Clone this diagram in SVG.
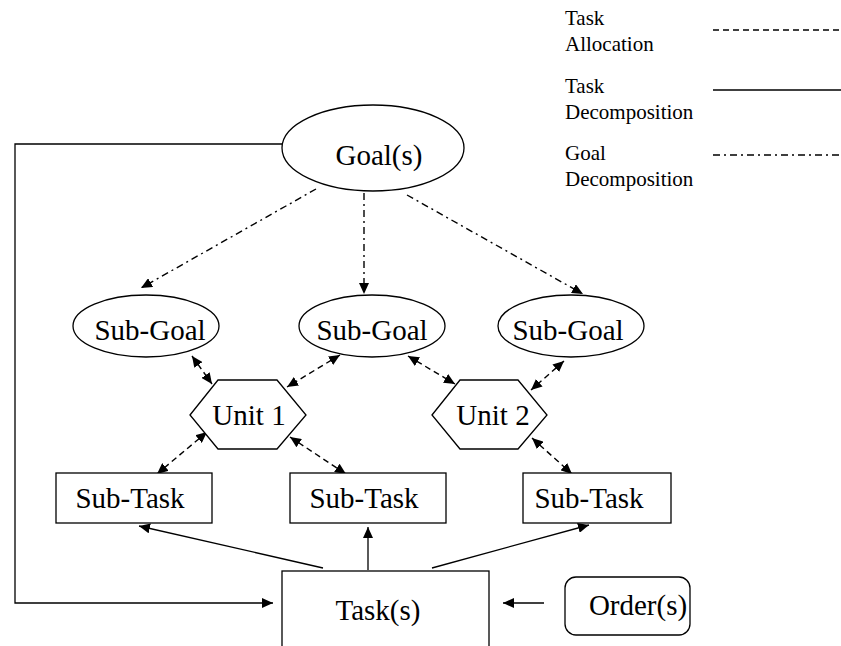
<svg xmlns="http://www.w3.org/2000/svg" width="841" height="646" viewBox="0 0 841 646">
<style>
  .shape { fill: #fff; stroke: #000; stroke-width: 1.3; }
  .lbl { font-family: "Liberation Serif", "Times New Roman", serif; font-size: 29px; fill: #000; text-anchor: middle; }
  .leg { font-family: "Liberation Serif", "Times New Roman", serif; font-size: 21px; fill: #000; }
  .solid { fill: none; stroke: #000; stroke-width: 1.3; }
  .dash { fill: none; stroke: #000; stroke-width: 1.4; stroke-dasharray: 6 4; }
  .dashdot { fill: none; stroke: #000; stroke-width: 1.4; stroke-dasharray: 7 4 2 4; }
</style>
<defs>
  <marker id="ah" markerUnits="userSpaceOnUse" markerWidth="12" markerHeight="10" viewBox="0 0 12 10" refX="11" refY="5" orient="auto-start-reverse">
    <path d="M0,0 L11,5 L0,10 Z" fill="#000"/>
  </marker>
</defs>

<g id="legend">
  <text class="leg" x="565" y="25">Task</text>
  <text class="leg" x="565" y="51">Allocation</text>
  <line class="dash" x1="713" y1="30" x2="841" y2="30"/>
  <text class="leg" x="565" y="93">Task</text>
  <text class="leg" x="565" y="119">Decomposition</text>
  <line class="solid" x1="713" y1="90" x2="841" y2="90"/>
  <text class="leg" x="565" y="160">Goal</text>
  <text class="leg" x="565" y="186">Decomposition</text>
  <line class="dashdot" x1="713" y1="155" x2="841" y2="155"/>
</g>

<g id="connectors">
  <!-- feedback loop -->
  <polyline class="solid" points="282,144 15,144 15,603 273,603" marker-end="url(#ah)"/>
  <!-- goal decomposition -->
  <line class="dashdot" x1="316" y1="189" x2="141" y2="288" marker-end="url(#ah)"/>
  <line class="dashdot" x1="364" y1="193" x2="364" y2="294" stroke-width="2.2" marker-end="url(#ah)"/>
  <line class="dashdot" x1="407" y1="195" x2="583" y2="294" marker-end="url(#ah)"/>
  <!-- task allocation (bidirectional) -->
  <line class="dash" x1="192" y1="356" x2="212" y2="384" marker-start="url(#ah)" marker-end="url(#ah)"/>
  <line class="dash" x1="340" y1="355" x2="287" y2="387" marker-start="url(#ah)" marker-end="url(#ah)"/>
  <line class="dash" x1="207" y1="432" x2="157" y2="474" marker-start="url(#ah)" marker-end="url(#ah)"/>
  <line class="dash" x1="290" y1="437" x2="346" y2="474" marker-start="url(#ah)" marker-end="url(#ah)"/>
  <line class="dash" x1="408" y1="356" x2="455" y2="384" marker-start="url(#ah)" marker-end="url(#ah)"/>
  <line class="dash" x1="564" y1="361" x2="531" y2="390" marker-start="url(#ah)" marker-end="url(#ah)"/>
  <line class="dash" x1="532" y1="438" x2="572" y2="474" marker-start="url(#ah)" marker-end="url(#ah)"/>
  <!-- task decomposition -->
  <line class="solid" x1="323" y1="568" x2="139" y2="526" marker-end="url(#ah)"/>
  <line class="solid" x1="368" y1="570" x2="368" y2="527" marker-end="url(#ah)"/>
  <line class="solid" x1="432" y1="568" x2="589" y2="525" marker-end="url(#ah)"/>
  <!-- order to task -->
  <line class="solid" x1="544" y1="603" x2="503" y2="603" marker-end="url(#ah)"/>
</g>

<g id="goal">
  <ellipse class="shape" cx="373" cy="148" rx="91" ry="43"/>
  <text class="lbl" x="379" y="165">Goal(s)</text>
</g>

<g id="subgoal1">
  <ellipse class="shape" cx="146" cy="326" rx="73" ry="31"/>
  <text class="lbl" x="150" y="340">Sub-Goal</text>
</g>
<g id="subgoal2">
  <ellipse class="shape" cx="372" cy="326" rx="73" ry="31"/>
  <text class="lbl" x="372" y="340">Sub-Goal</text>
</g>
<g id="subgoal3">
  <ellipse class="shape" cx="571" cy="326" rx="73" ry="31"/>
  <text class="lbl" x="568" y="340">Sub-Goal</text>
</g>

<g id="unit1">
  <polygon class="shape" points="190,415 218,380 277,380 306,415 277,449 218,449"/>
  <text class="lbl" x="249" y="425">Unit 1</text>
</g>
<g id="unit2">
  <polygon class="shape" points="432,415 460,380 518,380 547,415 518,449 460,449"/>
  <text class="lbl" x="493" y="425">Unit 2</text>
</g>

<g id="subtask1">
  <rect class="shape" x="56" y="473" width="156" height="50"/>
  <text class="lbl" x="130" y="508">Sub-Task</text>
</g>
<g id="subtask2">
  <rect class="shape" x="290" y="473" width="156" height="50"/>
  <text class="lbl" x="364" y="508">Sub-Task</text>
</g>
<g id="subtask3">
  <rect class="shape" x="523" y="473" width="148" height="50"/>
  <text class="lbl" x="589" y="508">Sub-Task</text>
</g>

<g id="tasks">
  <rect class="shape" x="282" y="571" width="207" height="90"/>
  <text class="lbl" x="378" y="620">Task(s)</text>
</g>

<g id="orders">
  <rect class="shape" x="565" y="577" width="125" height="58" rx="11" ry="11"/>
  <text class="lbl" x="638" y="615">Order(s)</text>
</g>
</svg>
